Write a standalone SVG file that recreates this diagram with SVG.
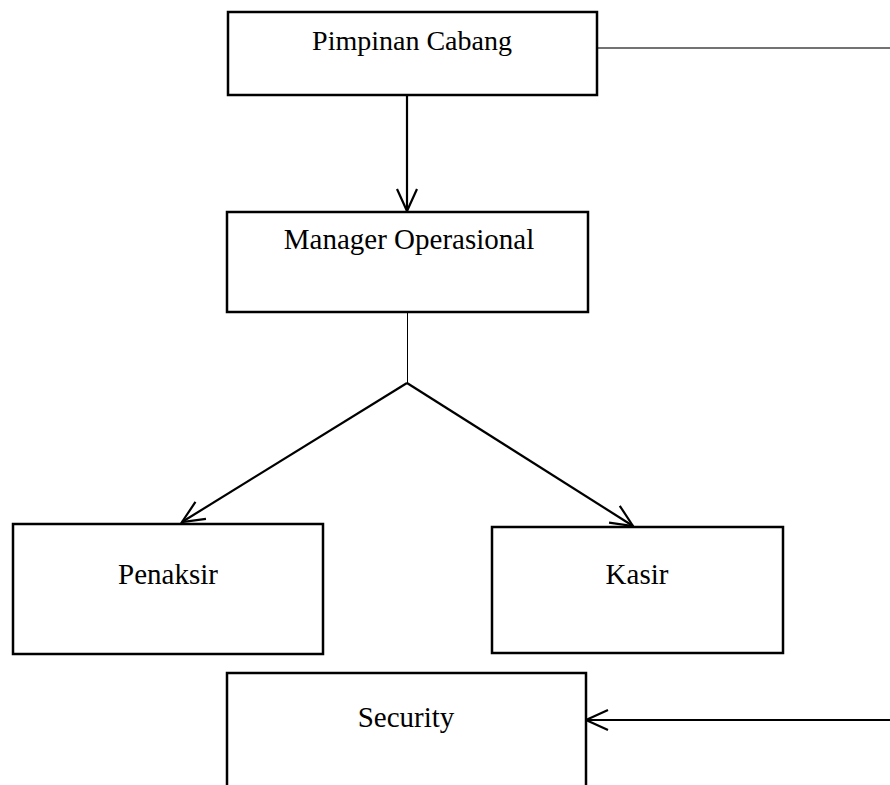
<svg xmlns="http://www.w3.org/2000/svg" width="890" height="785" viewBox="0 0 890 785">
<style>
.box{fill:#fff;stroke:#000;stroke-width:2.5}
.lbl{font-family:"Liberation Serif","Times New Roman",serif;font-size:29px;fill:#000;text-anchor:middle}
.arr{fill:none;stroke:#000;stroke-width:2.2;marker-end:url(#ah)}
</style>
<defs>
<marker id="ah" viewBox="0 0 22 20" refX="22" refY="10" markerWidth="22" markerHeight="20" markerUnits="userSpaceOnUse" orient="auto" overflow="visible">
<path d="M0,0 L22,10 L0,20" fill="none" stroke="#000" stroke-width="2.2"/>
</marker>
</defs>
<rect width="890" height="785" fill="#fff"/>
<g id="connectors">
<line x1="597" y1="48" x2="890" y2="48" stroke="#444" stroke-width="1.5"/>
<line class="arr" x1="407" y1="95" x2="407" y2="211"/>
<line x1="407.5" y1="312" x2="407.5" y2="383" stroke="#000" stroke-width="1"/>
<line class="arr" x1="407" y1="383" x2="182" y2="522"/>
<line class="arr" x1="407" y1="383" x2="633" y2="526"/>
<line class="arr" x1="890" y1="720" x2="586" y2="720"/>
</g>
<g id="pimpinan">
<rect class="box" x="228" y="12" width="369" height="83"/>
<text class="lbl" x="412" y="50" style="font-size:28px">Pimpinan Cabang</text>
</g>
<g id="manager">
<rect class="box" x="227" y="212" width="361" height="100"/>
<text class="lbl" x="409" y="249">Manager Operasional</text>
</g>
<g id="penaksir">
<rect class="box" x="13" y="524" width="310" height="130"/>
<text class="lbl" x="168" y="584">Penaksir</text>
</g>
<g id="kasir">
<rect class="box" x="492" y="527" width="291" height="126"/>
<text class="lbl" x="637" y="584">Kasir</text>
</g>
<g id="security">
<rect class="box" x="227" y="673" width="359" height="130"/>
<text class="lbl" x="406" y="727">Security</text>
</g>
</svg>
